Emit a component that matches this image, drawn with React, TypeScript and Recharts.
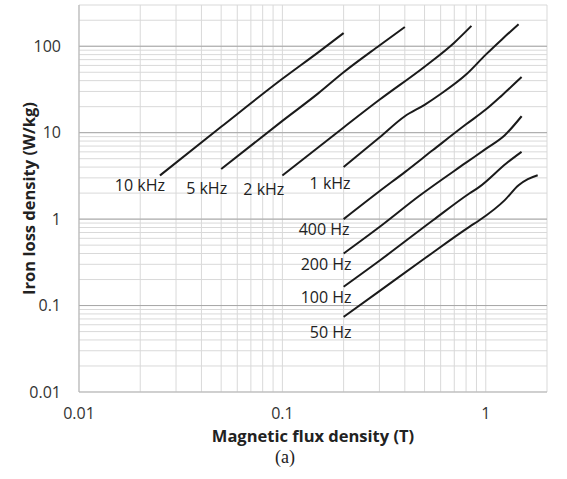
import React from "react";
import { LineChart, Line, XAxis, YAxis, CartesianGrid, ReferenceLine, LabelList, Label } from "recharts";

// flux density (T) and iron loss (W/kg)
const b10k = [0.025, 0.05, 0.1, 0.15, 0.2];
const p10k = [3.2, 11.7, 42, 85, 142];
const b5k = [0.05, 0.1, 0.15, 0.2, 0.3, 0.4];
const p5k = [3.8, 13.7, 28.5, 50, 102, 167];
const b2k = [0.1, 0.2, 0.3, 0.5, 0.7, 0.85];
const p2k = [3.2, 11.5, 24, 58, 110, 172];
const b1k = [0.2, 0.3, 0.4, 0.5, 0.6, 0.8, 1.0, 1.2, 1.45];
const p1k = [4.0, 8.8, 15.5, 21, 28, 47, 80, 120, 180];
const b400 = [0.2, 0.3, 0.4, 0.55, 0.8, 1.0, 1.2, 1.5];
const p400 = [1.0, 2.1, 3.5, 6.3, 12.5, 18.5, 27, 44];
const b200 = [0.2, 0.3, 0.47, 0.8, 1.0, 1.24, 1.5];
const p200 = [0.4, 0.81, 1.85, 4.5, 6.5, 9.35, 15.5];
const b100 = [0.2, 0.3, 0.55, 0.83, 0.93, 1.26, 1.5];
const p100 = [0.165, 0.33, 0.97, 1.98, 2.36, 4.4, 6.0];
const b50 = [0.2, 0.3, 0.5, 0.83, 0.93, 1.24, 1.45, 1.61, 1.8];
const p50 = [0.074, 0.147, 0.35, 0.815, 0.97, 1.66, 2.47, 2.9, 3.22];

const names = ["10 kHz", "5 kHz", "2 kHz", "1 kHz", "400 Hz", "200 Hz", "100 Hz", "50 Hz"];

const xTicks = [0.01, 0.02, 0.03, 0.04, 0.05, 0.06, 0.07, 0.08, 0.09, 0.1, 0.2, 0.3, 0.4, 0.5, 0.6, 0.7, 0.8, 0.9, 1, 2];
const yTicks = [
  0.01, 0.02, 0.03, 0.04, 0.05, 0.06, 0.07, 0.08, 0.09,
  0.1, 0.2, 0.3, 0.4, 0.5, 0.6, 0.7, 0.8, 0.9,
  1, 2, 3, 4, 5, 6, 7, 8, 9,
  10, 20, 30, 40, 50, 60, 70, 80, 90,
  100, 200, 300,
];
const xLabels = [0.01, 0.1, 1];
const yLabels = [0.01, 0.1, 1, 10, 100];

const zip = (b: number[], p: number[]) => b.map((v, i) => ({ B: v, P: p[i] }));
const curves = [
  zip(b10k, p10k), zip(b5k, p5k), zip(b2k, p2k), zip(b1k, p1k),
  zip(b400, p400), zip(b200, p200), zip(b100, p100), zip(b50, p50),
];

// label offset from the first point of each curve (right edge of text)
const labelOffsets = [
  [5, 10], [6, 19], [2, 14], [7, 16], [6, 10], [8, 10], [8, 10], [8, 15],
];

const font = "'Open Sans', sans-serif";
const tickStyle = { fill: "#333", fontSize: 16, fontFamily: font };

const App: React.FC = () => {
  return (
    <div style={{ position: "absolute", left: 0, top: 0, width: 567, height: 479, background: "#fff" }}>
      <LineChart width={567} height={479} margin={{ top: 5, right: 20, bottom: 0, left: 0 }} style={{ fontFamily: font }}>
        <CartesianGrid stroke="#d9d9d9" strokeWidth={1} />
        <XAxis
          dataKey="B"
          type="number"
          scale="log"
          domain={[0.01, 2]}
          ticks={xTicks}
          allowDataOverflow
          height={87}
          tickLine={false}
          tickSize={6}
          tickMargin={10}
          axisLine={{ stroke: "#b3b3b3" }}
          tick={tickStyle}
          interval={0}
          tickFormatter={(v: number) => (xLabels.includes(v) ? String(v) : "")}
        >
          <Label
            content={(props: any) => {
              const vb = props.viewBox;
              return (
                <g>
                  <text x={vb.x + vb.width / 2} y={vb.y + 43.5} textAnchor="middle" dominantBaseline="central"
                    style={{ fontFamily: font, fontWeight: 700, fontSize: 16.5, fill: "#222" }}>
                    Magnetic flux density (T)
                  </text>
                  <text x={285} y={vb.y + 64.5} textAnchor="middle" dominantBaseline="central"
                    style={{ fontFamily: "'Liberation Serif', serif", fontSize: 18, fill: "#222" }}>
                    (a)
                  </text>
                </g>
              );
            }}
          />
        </XAxis>
        <YAxis
          type="number"
          scale="log"
          domain={[0.01, 300]}
          ticks={yTicks}
          allowDataOverflow
          width={79}
          tickLine={false}
          tickSize={6}
          tickMargin={12}
          axisLine={{ stroke: "#b3b3b3" }}
          tick={tickStyle}
          interval={0}
          tickFormatter={(v: number) => (yLabels.includes(v) ? String(v) : "")}
        >
          <Label
            content={(props: any) => {
              const vb = props.viewBox;
              const cx = 28;
              const cy = vb.y + vb.height / 2;
              return (
                <text x={cx} y={cy} transform={`rotate(-90, ${cx}, ${cy})`} textAnchor="middle" dominantBaseline="central"
                  style={{ fontFamily: font, fontWeight: 700, fontSize: 16.5, fill: "#222" }}>
                  Iron loss density (W/kg)
                </text>
              );
            }}
          />
        </YAxis>
        {yLabels.slice(1).map((v) => (
          <ReferenceLine key={v} y={v} stroke="#a6a6a6" strokeWidth={1} />
        ))}
        {curves.map((data, i) => (
          <Line
            key={names[i]}
            data={data}
            dataKey="P"
            type="monotone"
            stroke="#1a1a1a"
            strokeWidth={2}
            dot={false}
            isAnimationActive={false}
          >
            <LabelList
              dataKey="P"
              content={(p: any) =>
                p.index === 0 ? (
                  <text
                    x={p.x + labelOffsets[i][0]}
                    y={p.y + labelOffsets[i][1]}
                    textAnchor="end"
                    dominantBaseline="central"
                    style={{ fontFamily: font, fontSize: 16, fill: "#222" }}
                  >
                    {names[i]}
                  </text>
                ) : null
              }
            />
          </Line>
        ))}
      </LineChart>
    </div>
  );
};

export default App;
